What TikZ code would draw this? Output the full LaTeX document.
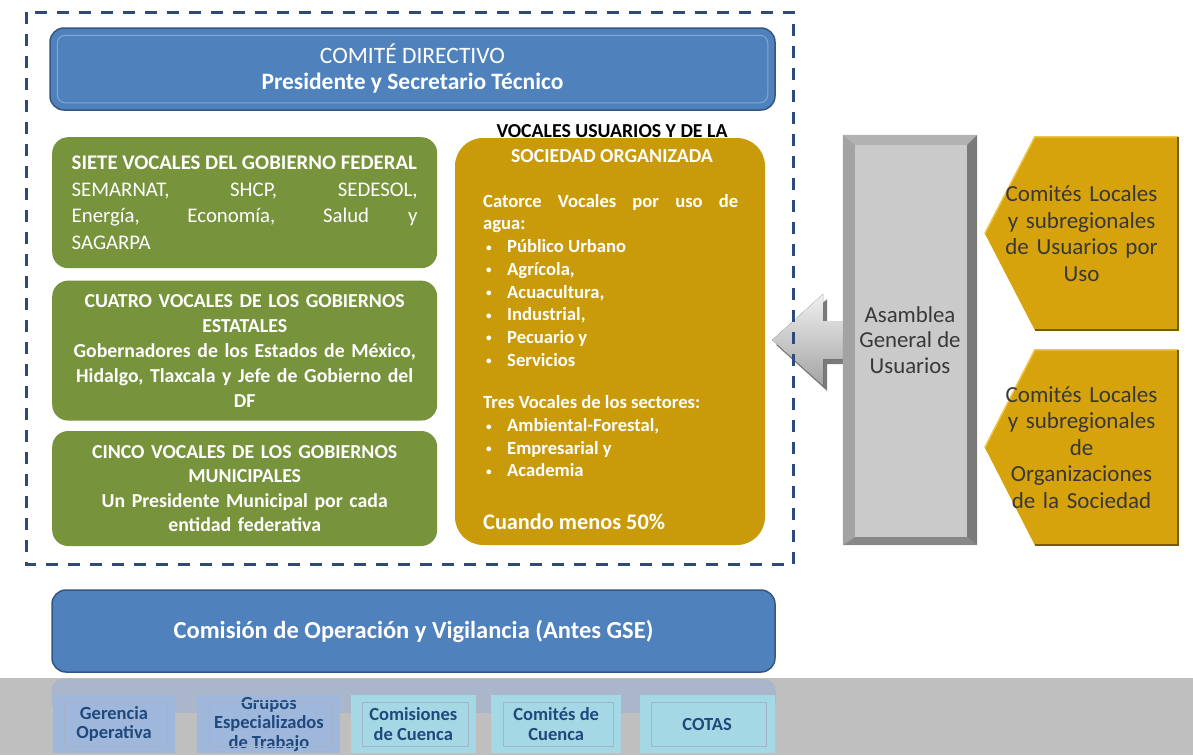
\documentclass[tikz,border=0pt]{standalone}
\usepackage{fontspec}
\setmainfont{Carlito}
\usetikzlibrary{backgrounds,fit,positioning}
\definecolor{azuli}{RGB}{79,129,189}
\definecolor{azulii}{RGB}{52,86,130}
\definecolor{azuliii}{RGB}{31,73,125}
\definecolor{marcoi}{RGB}{46,74,120}
\definecolor{verdei}{RGB}{119,147,60}
\definecolor{oroi}{RGB}{201,155,10}
\definecolor{oroii}{RGB}{214,163,12}
\definecolor{oroiii}{RGB}{120,90,0}
\definecolor{oroiv}{RGB}{236,196,70}
\definecolor{grisi}{RGB}{202,202,202}
\definecolor{grisii}{RGB}{163,163,163}
\definecolor{grisiii}{RGB}{122,122,122}
\definecolor{grisiv}{RGB}{191,191,191}
\definecolor{grisv}{RGB}{178,178,178}
\definecolor{textoi}{RGB}{56,56,56}
\definecolor{celestei}{RGB}{158,183,219}
\definecolor{celesteii}{RGB}{165,216,229}
\definecolor{reflejoi}{RGB}{170,182,201}
\newcommand{\bala}{\hspace*{3pt}\makebox[21pt][l]{\raisebox{1.5pt}{\scalebox{0.6}{\textbullet}}}}
\tikzset{
      myazulblock/.style 2 args={
        draw=azulii,
        fill=azuli,
        line width=1.5pt,
        rounded corners=14pt,
        align=center,
        text=white,
        minimum width=#1,
        minimum height=#2
      },
      myverdeblock/.style 2 args={
        fill=verdei,
        rounded corners=16pt,
        text=white,
        text width=#1,
        inner xsep=19.5pt,
        minimum height=#2
      },
      myoroblock/.style={
        fill=oroi,
        rounded corners=28pt,
        minimum width=310pt,
        minimum height=407pt
      },
      mylocales/.style={
        minimum width=193pt,
        text width=166pt,
        align=center,
        text=textoi,
        inner sep=0pt,
        font=\fontsize{23}{26.5}\selectfont
      },
      mypentagono/.style={
        fill=oroii
      },
      myborde/.style={
        draw=oroiii,
        line width=2pt
      },
      myminiblock/.style 2 args={
        fill=#1,
        minimum width=#2,
        minimum height=58pt,
        inner sep=0pt,
        align=center,
        text=azuliii,
        font=\bfseries\fontsize{18.5}{19.5}\selectfont
      },
      mymarco/.style={
        draw=marcoi,
        line width=3pt,
        dash pattern=on 12pt off 10pt
      },
      mymarcoint/.style={
        draw=azulii!45,
        line width=1pt
      },
    }
\begin{document}
\begin{tikzpicture}[x=1pt,y=1pt,node distance=11pt and 20pt]
  \useasboundingbox (0,0) rectangle (1193,-755);

  %Comite directivo
  \node[myazulblock={725pt}{82pt},font=\fontsize{23.5}{26}\selectfont]
    (comite) at (412.5,-69)
    {COMITÉ DIRECTIVO\\\textbf{Presidente y Secretario Técnico}};
  \draw[white,opacity=0.3,line width=1pt,rounded corners=8pt]
    ([shift={(8pt,-8pt)}]comite.north west) rectangle ([shift={(-8pt,8pt)}]comite.south east);

  %Vocales de los gobiernos
  \node[myverdeblock={346pt}{131pt},align=justify,anchor=north west,
        font=\fontsize{20.8}{26.5}\selectfont]
    (federal) at (52,-137)
    {\textbf{SIETE VOCALES DEL GOBIERNO FEDERAL}\\
     SEMARNAT, SHCP, SEDESOL,\linebreak Energía, Economía, Salud y\linebreak SAGARPA};
  \node[myverdeblock={346pt}{140pt},align=center,below=12pt of federal,
        font=\fontsize{19.8}{25}\selectfont\bfseries]
    (estatal)
    {CUATRO VOCALES DE LOS GOBIERNOS\\ESTATALES\\
     Gobernadores de los Estados de México,\\
     Hidalgo, Tlaxcala y Jefe de Gobierno del\\DF};
  \node[myverdeblock={346pt}{115pt},align=center,below=10pt of estatal,
        font=\fontsize{19.8}{24.5}\selectfont\bfseries]
    (municipal)
    {CINCO VOCALES DE LOS GOBIERNOS\\MUNICIPALES\\
     Un Presidente Municipal por cada\\entidad federativa};

  %Vocales usuarios
  \node[myoroblock] (usuarios) at (610,-341.5) {};
  \node[font=\fontsize{19.8}{24}\selectfont\bfseries,inner sep=0pt]
    (tituloU) at (612,-131)
    {VOCALES USUARIOS Y DE LA};
  \node[font=\fontsize{19.8}{24}\selectfont\bfseries,text=white,inner sep=0pt]
    (tituloU2) at (612,-156)
    {SOCIEDAD ORGANIZADA};
  \node[anchor=north west,text width=255pt,align=justify,inner sep=0pt,text=white,
        font=\fontsize{18.6}{22.7}\selectfont\bfseries]
    (listaU) at (483,-194)
    {Catorce Vocales por uso de\linebreak agua:\\
     \bala Público Urbano\\
     \bala Agrícola,\\
     \bala Acuacultura,\\
     \bala Industrial,\\
     \bala Pecuario y\\
     \bala Servicios\\[20pt]
     Tres Vocales de los sectores:\\
     \bala Ambiental-Forestal,\\
     \bala Empresarial y\\
     \bala Academia\\[30pt]
     {\fontsize{22.3}{26}\selectfont Cuando menos 50\%}};

  %Flecha hacia los vocales usuarios
  \coordinate (puntaFlecha) at ([shift={(7pt,1.5pt)}]usuarios.east);
  \begin{pgfonlayer}{background}
    \fill[grisiii] ([shift={(4pt,-5pt)}]puntaFlecha) -- ++(51,46) -- ++(0,-27) -- ++(30,0)
      -- ++(0,-38) -- ++(-30,0) -- ++(0,-27) -- cycle;
    \fill[top color=gray!12,bottom color=grisii] (puntaFlecha) -- ++(51,46) -- ++(0,-27) -- ++(30,0)
      -- ++(0,-38) -- ++(-30,0) -- ++(0,-27) -- cycle;
  \end{pgfonlayer}

  \coordinate (esquina) at (comite.east |- municipal.south);
  \draw[mymarco] ([shift={(-23pt,15pt)}]comite.north west) rectangle ([shift={(18pt,-18pt)}]esquina);

  %Asamblea general
  \node[fill=grisi,minimum width=134pt,minimum height=410pt,align=center,text=textoi,
        font=\fontsize{22.8}{25.5}\selectfont]
    (asamblea) at (910,-340)
    {Asamblea\\General de\\Usuarios};
  \fill[grisv] (asamblea.north west) -- (asamblea.north east) -- ([shift={(-10pt,-10pt)}]asamblea.north east)
    -- ([shift={(12pt,-10pt)}]asamblea.north west) -- cycle;
  \fill[grisii] (asamblea.north west) -- ([shift={(12pt,-10pt)}]asamblea.north west)
    -- ([shift={(12pt,8pt)}]asamblea.south west) -- (asamblea.south west) -- cycle;
  \fill[grisiii] (asamblea.north east) -- (asamblea.south east) -- ([shift={(-10pt,8pt)}]asamblea.south east)
    -- ([shift={(-10pt,-10pt)}]asamblea.north east) -- cycle;
  \fill[grisiii!90] (asamblea.south west) -- ([shift={(12pt,8pt)}]asamblea.south west)
    -- ([shift={(-10pt,8pt)}]asamblea.south east) -- (asamblea.south east) -- cycle;

  %Comites locales
  \node[mylocales,minimum height=193pt] (locales1) at (1081.5,-233.5)
    {Comités Locales\\y subregionales\\de Usuarios por\\Uso};
  \node[mylocales,minimum height=195pt] (locales2) at (1081.5,-447.5)
    {Comités Locales\\y subregionales\\de\\Organizaciones\\de la Sociedad};
  \begin{pgfonlayer}{background}
    \fill[mypentagono] (locales1.north east) -- (locales1.south east) -- ([xshift=50pt]locales1.south west)
      -- (locales1.west) -- ([xshift=50pt]locales1.north west) -- cycle;
    \draw[oroiv,line width=1.5pt] (locales1.west) -- ([xshift=50pt]locales1.north west) -- (locales1.north east);
    \draw[myborde] (locales1.north east) -- (locales1.south east) -- ([xshift=50pt]locales1.south west);
    \fill[mypentagono] (locales2.north east) -- (locales2.south east) -- ([xshift=50pt]locales2.south west)
      -- (locales2.west) -- ([xshift=50pt]locales2.north west) -- cycle;
    \draw[oroiv,line width=1.5pt] (locales2.west) -- ([xshift=50pt]locales2.north west) -- (locales2.north east);
    \draw[myborde] (locales2.north east) -- (locales2.south east) -- ([xshift=50pt]locales2.south west);
  \end{pgfonlayer}

  %Comision de operacion
  \fill[grisiv] (0,-678) rectangle (1193,-755);
  \node[myazulblock={723pt}{82pt},font=\fontsize{24.5}{26}\selectfont\bfseries]
    (comision) at (413.5,-631)
    {Comisión de Operación y Vigilancia (Antes GSE)};
  \fill[reflejoi,rounded corners=12pt] (comision.south west) ++(0,-6pt) rectangle ([yshift=-40pt]comision.south east);

  \node[myminiblock={celestei}{122pt}] (gerencia) at (114,-724) {Gerencia\\Operativa};
  \node[myminiblock={celestei}{143pt},right=22pt of gerencia] (grupos) {Grupos\\Especializados\\de Trabajo};
  \node[myminiblock={celesteii}{125pt},right=10pt of grupos] (comisiones) {Comisiones\\de Cuenca};
  \node[myminiblock={celesteii}{130pt},right=15pt of comisiones] (comites) {Comités de\\Cuenca};
  \node[myminiblock={celesteii}{135pt},right=18pt of comites] (cotas) {COTAS};
  \foreach \n in {gerencia,grupos,comisiones,comites,cotas}
    \draw[mymarcoint] ([shift={(12pt,-8pt)}]\n.north west) rectangle ([shift={(-8pt,7pt)}]\n.south east);

\end{tikzpicture}
\end{document}
